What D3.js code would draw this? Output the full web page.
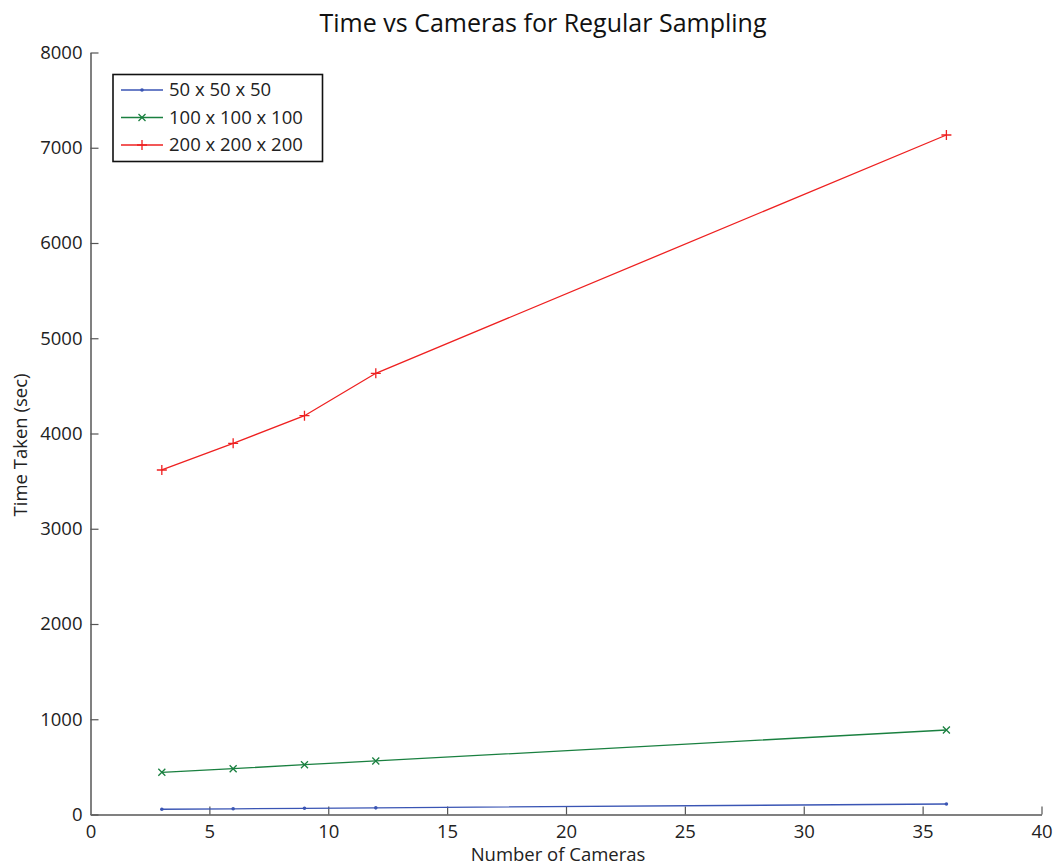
<!DOCTYPE html>
<html>
<head>
<meta charset="utf-8">
<script src="https://cdn.jsdelivr.net/npm/d3@7"></script>
<style>
  html, body { margin: 0; padding: 0; background: #fff; }
  svg { display: block; font-family: "Open Sans", "Noto Sans", sans-serif; }
</style>
</head>
<body>
<svg id="chart" width="1061" height="868"></svg>
<script>
// Number of cameras used in each run
const cameras = [3, 6, 9, 12, 36];
// Time taken (sec) for each grid resolution
const grid50 = [55, 60, 65, 70, 110];
const grid100 = [443, 481, 523, 562, 887];
const grid200 = [3617, 3897, 4187, 4632, 7134];
const seriesNames = ["50 x 50 x 50", "100 x 100 x 100", "200 x 200 x 200"];
const xTicks = [0, 5, 10, 15, 20, 25, 30, 35, 40];
const yTicks = [0, 1000, 2000, 3000, 4000, 5000, 6000, 7000, 8000];

const svg = d3.select("#chart");
const margin = { left: 90.5, right: 1041.5, top: 52.5, bottom: 814.5 };

const x = d3.scaleLinear().domain([0, 40]).range([margin.left, margin.right]);
const y = d3.scaleLinear().domain([0, 8000]).range([margin.bottom, margin.top]);

const axisColor = "#808080";
const textColor = "#222";
const fontSize = "18.5px";

// Axes with inward ticks
const xAxis = svg.append("g").attr("transform", `translate(0,${margin.bottom})`)
  .call(d3.axisBottom(x).tickValues(xTicks).tickFormat(d3.format("d"))
    .tickSizeInner(-8).tickSizeOuter(0).tickPadding(10));
const yAxis = svg.append("g").attr("transform", `translate(${margin.left},0)`)
  .call(d3.axisLeft(y).tickValues(yTicks).tickFormat(d3.format("d"))
    .tickSizeInner(-8).tickSizeOuter(0).tickPadding(8));

[xAxis, yAxis].forEach(g => {
  g.select(".domain").attr("stroke", axisColor).attr("stroke-width", 2);
  g.selectAll(".tick line").attr("stroke", "#555").attr("stroke-width", 1.2);
  g.selectAll(".tick text").attr("fill", textColor)
    .style("font-size", fontSize).style("font-family", "'Open Sans', sans-serif");
});

// Title and axis labels
svg.append("text").attr("x", 543).attr("y", 32).attr("text-anchor", "middle")
  .attr("fill", "#111").style("font-size", "25px").text("Time vs Cameras for Regular Sampling");
svg.append("text").attr("x", 558).attr("y", 861).attr("text-anchor", "middle")
  .attr("fill", textColor).style("font-size", fontSize).text("Number of Cameras");
svg.append("text").attr("transform", "translate(27,445) rotate(-90)").attr("text-anchor", "middle")
  .attr("fill", textColor).style("font-size", fontSize).text("Time Taken (sec)");

const series = [
  { name: seriesNames[0], values: grid50, color: "#3a55b4", marker: "dot" },
  { name: seriesNames[1], values: grid100, color: "#1a8040", marker: "x" },
  { name: seriesNames[2], values: grid200, color: "#ee2020", marker: "plus" }
];

function drawMarker(g, type, cx, cy, color) {
  if (type === "dot") {
    g.append("circle").attr("cx", cx).attr("cy", cy).attr("r", 1.8).attr("fill", color);
  } else if (type === "x") {
    const s = 3.5;
    g.append("path").attr("d", `M${cx - s},${cy - s}L${cx + s},${cy + s}M${cx - s},${cy + s}L${cx + s},${cy - s}`)
      .attr("stroke", color).attr("stroke-width", 1.3).attr("fill", "none");
  } else {
    const s = 5;
    g.append("path").attr("d", `M${cx - s},${cy}L${cx + s},${cy}M${cx},${cy - s}L${cx},${cy + s}`)
      .attr("stroke", color).attr("stroke-width", 1.3).attr("fill", "none");
  }
}

const line = d3.line().x(d => x(d[0])).y(d => y(d[1]));
series.forEach(s => {
  const pts = cameras.map((c, i) => [c, s.values[i]]);
  const g = svg.append("g");
  g.append("path").attr("d", line(pts)).attr("fill", "none").attr("stroke", s.color).attr("stroke-width", 1.3);
  pts.forEach(p => drawMarker(g, s.marker, x(p[0]), y(p[1]), s.color));
});

// Legend
const legend = svg.append("g");
legend.append("rect").attr("x", 113).attr("y", 74.5).attr("width", 209.5).attr("height", 87)
  .attr("fill", "#fff").attr("stroke", "#111").attr("stroke-width", 1.6);
series.forEach((s, i) => {
  const ly = 90 + i * 27.5;
  legend.append("line").attr("x1", 121).attr("x2", 163).attr("y1", ly).attr("y2", ly)
    .attr("stroke", s.color).attr("stroke-width", 1.3);
  drawMarker(legend, s.marker, 142, ly, s.color);
  legend.append("text").attr("x", 169).attr("y", ly).attr("dy", "0.35em")
    .attr("fill", textColor).style("font-size", fontSize).text(s.name);
});
</script>
</body>
</html>
